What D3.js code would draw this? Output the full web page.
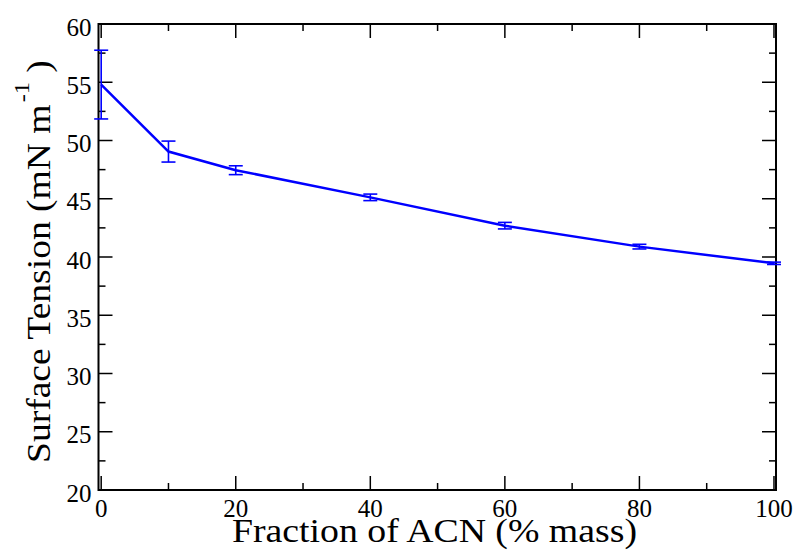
<!DOCTYPE html>
<html>
<head>
<meta charset="utf-8">
<script src="https://cdn.jsdelivr.net/npm/d3@7"></script>
<style>
  html, body { margin: 0; padding: 0; background: #fff; }
  svg { display: block; }
  #chart text { font-family: 'Liberation Serif', 'Times New Roman', Tinos, serif; }
</style>
</head>
<body>
<svg id="chart" width="796" height="553"></svg>
<script>
// Surface tension of water/ACN mixtures versus ACN mass fraction
const fractions = [0, 10, 20, 40, 60, 80, 100];
const tension   = [54.8, 49.05, 47.45, 45.12, 42.69, 40.89, 39.46];
const errors    = [2.95, 0.9, 0.38, 0.28, 0.28, 0.2, 0.1];
const xMajorTicks = [0, 20, 40, 60, 80, 100];
const xMinorTicks = [10, 30, 50, 70, 90];
const yMajorTicks = [20, 25, 30, 35, 40, 45, 50, 55, 60];
const yMinorTicks = [22.5, 27.5, 32.5, 37.5, 42.5, 47.5, 52.5, 57.5];

const svg = d3.select("#chart");
const frame = { left: 98.5, right: 776, top: 24, bottom: 490 };

const x = d3.scaleLinear().domain([-0.4, 100.3]).range([frame.left, frame.right]);
const y = d3.scaleLinear().domain([20, 60]).range([frame.bottom, frame.top]);

const majorLen = 14, minorLen = 7;
const ticks = svg.append("g").attr("stroke", "#000").attr("stroke-width", 1.5);

// x ticks, bottom and top, pointing inward
[[xMajorTicks, majorLen], [xMinorTicks, minorLen]].forEach(([vals, len]) => {
  vals.forEach(v => {
    const px = x(v);
    ticks.append("line").attr("x1", px).attr("x2", px)
      .attr("y1", frame.bottom).attr("y2", frame.bottom - len);
    ticks.append("line").attr("x1", px).attr("x2", px)
      .attr("y1", frame.top).attr("y2", frame.top + len);
  });
});
// y ticks, left and right, pointing inward
[[yMajorTicks, majorLen], [yMinorTicks, minorLen]].forEach(([vals, len]) => {
  vals.forEach(v => {
    const py = y(v);
    ticks.append("line").attr("y1", py).attr("y2", py)
      .attr("x1", frame.left).attr("x2", frame.left + len);
    ticks.append("line").attr("y1", py).attr("y2", py)
      .attr("x1", frame.right).attr("x2", frame.right - len);
  });
});

// frame
svg.append("rect")
  .attr("x", frame.left).attr("y", frame.top)
  .attr("width", frame.right - frame.left).attr("height", frame.bottom - frame.top)
  .attr("fill", "none").attr("stroke", "#000").attr("stroke-width", 2);

// tick labels
svg.append("g").selectAll("text").data(xMajorTicks).join("text")
  .attr("x", d => x(d)).attr("y", 517)
  .attr("text-anchor", "middle").style("font-size", "25px")
  .text(d => d);
svg.append("g").selectAll("text").data(yMajorTicks).join("text")
  .attr("x", 91.5).attr("y", d => y(d) + 11.5)
  .attr("text-anchor", "end").style("font-size", "25px")
  .text(d => d);

// data
const pts = fractions.map((f, i) => ({ f, t: tension[i], e: errors[i] }));

const line = d3.line().x(d => x(d.f)).y(d => y(d.t));
svg.append("path").datum(pts)
  .attr("d", line).attr("fill", "none")
  .attr("stroke", "#0000ff").attr("stroke-width", 2.5);

const cap = 7;
const eb = svg.append("g").attr("stroke", "#0000ff").attr("stroke-width", 1.6).attr("fill", "none");
pts.forEach(d => {
  const px = x(d.f), top = y(d.t + d.e), bot = y(d.t - d.e);
  eb.append("line").attr("x1", px).attr("x2", px).attr("y1", top).attr("y2", bot);
  eb.append("line").attr("x1", px - cap).attr("x2", px + cap).attr("y1", top).attr("y2", top);
  eb.append("line").attr("x1", px - cap).attr("x2", px + cap).attr("y1", bot).attr("y2", bot);
});

// axis titles: the glyphs are slightly widened along the text direction
svg.append("text")
  .attr("x", 232).attr("y", 542)
  .attr("textLength", 405).attr("lengthAdjust", "spacingAndGlyphs")
  .style("font-size", "34px")
  .text("Fraction of ACN (% mass)");

const yTitleSpan = 403;
const yTitleG = svg.append("g").attr("transform", "translate(50, 463) rotate(-90)");
const yTitleInner = yTitleG.append("g");
const yTitle = yTitleInner.append("text")
  .attr("x", 0).attr("y", 0)
  .attr("text-anchor", "start").style("font-size", "34px");
yTitle.append("tspan").text("Surface Tension (mN m");
yTitle.append("tspan").style("font-size", "22px").attr("dy", -21).attr("dx", 2).text("-1");
yTitle.append("tspan").attr("dy", 21).text(" )");
const yLen = yTitle.node().getBBox().width;
yTitleInner.attr("transform", `scale(${yTitleSpan / yLen}, 1)`);
</script>
</body>
</html>
